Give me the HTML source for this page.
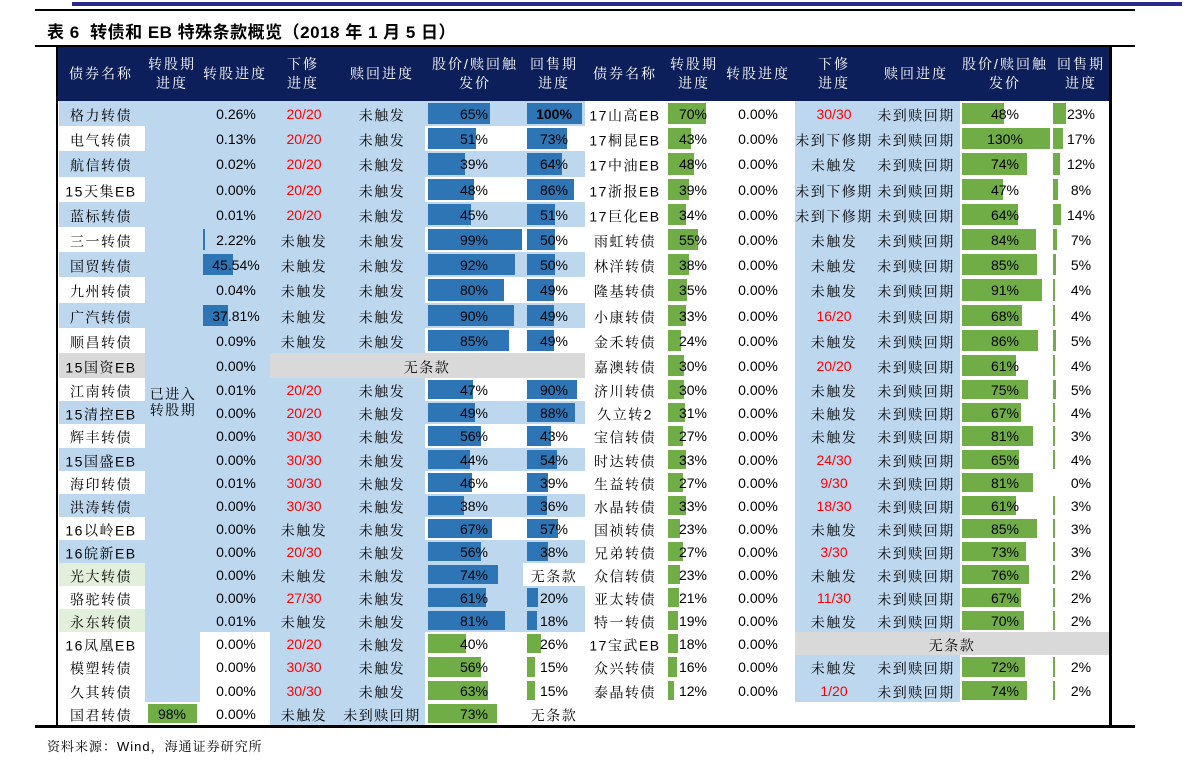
<!DOCTYPE html>
<html><head><meta charset="utf-8">
<style>
body{margin:0;width:1191px;height:772px;background:#fff;position:relative;overflow:hidden;font-family:"Liberation Sans","Noto Serif CJK SC",sans-serif;}
div{position:absolute;box-sizing:border-box;}
.t{white-space:nowrap;font-size:14px;color:#000;text-align:center;transform:translate(-50%,-50%);line-height:1.15;}
.c{font-family:"Liberation Sans","Noto Serif CJK SC",serif;letter-spacing:1.5px;transform:translate(-50%,-40%);}
.h{color:#fff;font-size:14px;line-height:19px;text-align:center;white-space:nowrap;transform:translate(-50%,-50%);font-family:"Liberation Sans","Noto Serif CJK SC",serif;letter-spacing:2px;}
</style></head><body>
<div style="left:72px;top:2px;width:1110px;height:4px;background:#2b2a8a"></div>
<div style="left:35px;top:9px;width:1100px;height:2px;background:#000"></div>
<div style="left:47px;top:18px;font-size:17px;font-weight:bold;white-space:nowrap;letter-spacing:0.5px;font-family:'Liberation Sans','Noto Sans CJK SC',sans-serif;">表 6&nbsp; 转债和 EB 特殊条款概览（2018 年 1 月 5 日）</div>
<div style="left:35px;top:45px;width:1100px;height:2px;background:#000"></div>
<div style="left:57px;top:47px;width:1054px;height:54px;background:#0d1f5a"></div>
<div id="g"></div>
<div style="left:56px;top:47px;width:2px;height:680px;background:#000"></div>
<div style="left:1109px;top:47px;width:3px;height:680px;background:#000"></div>
<div style="left:35px;top:725px;width:1100px;height:3px;background:#000"></div>
<div style="left:47px;top:736px;font-size:13px;white-space:nowrap;letter-spacing:1px;font-family:'Liberation Sans','Noto Serif CJK SC',serif;">资料来源：Wind，海通证券研究所</div>
<script>
(function(){
var B='#bdd7ee',W='#fff',G='#d9d9d9',L='#e2efda',BB='#2e75b6',GB='#70ad47';
var out='';
function rect(x,y,w,h,c){out+='<div style="left:'+x+'px;top:'+y+'px;width:'+w+'px;height:'+h+'px;background:'+c+'"></div>';}
function txt(x,y,s,col,cls,bold){out+='<div class="t '+(cls||'')+'" style="left:'+x+'px;top:'+y+'px;'+(col?'color:'+col+';':'')+(bold?'font-weight:bold;':'')+'">'+s+'</div>';}
function hd(x,s){out+='<div class="h" style="left:'+x+'px;top:74px">'+s+'</div>';}
var hl=[[101,'债券名称'],[172,'转股期<br>进度'],[235,'转股进度'],[303,'下修<br>进度'],[382,'赎回进度'],[475,'股价/赎回触<br>发价'],[554,'回售期<br>进度'],[625,'债券名称'],[694,'转股期<br>进度'],[758,'转股进度'],[834,'下修<br>进度'],[916,'赎回进度'],[1005,'股价/赎回触<br>发价'],[1081,'回售期<br>进度']];
hl.forEach(function(a){hd(a[0],a[1]);});
function rawTop(i){return i<=11?101+(i-1)*25.2:378.2+(i-12)*23.1;}
function rowTop(i){return Math.round(rawTop(i));}
function hh(i){return Math.round(rawTop(i+1))-rowTop(i);}
function isR(s){return /^\d+\/\d+$/.test(s);}
var Lr=[
['格力转债','B','','0.26%','20/20','未触发',65,100],
['电气转债','W','','0.13%','20/20','未触发',51,73],
['航信转债','B','','0.02%','20/20','未触发',39,64],
['15天集EB','W','','0.00%','20/20','未触发',48,86],
['蓝标转债','B','','0.01%','20/20','未触发',45,51],
['三一转债','W','','2.22%','未触发','未触发',99,50],
['国贸转债','B','','45.54%','未触发','未触发',92,50],
['九州转债','W','','0.04%','未触发','未触发',80,49],
['广汽转债','B','','37.81%','未触发','未触发',90,49],
['顺昌转债','W','','0.09%','未触发','未触发',85,49],
['15国资EB','G','','0.00%','','',null,null],
['江南转债','W','','0.01%','20/20','未触发',47,90],
['15清控EB','B','','0.00%','20/20','未触发',49,88],
['辉丰转债','W','','0.00%','30/30','未触发',56,43],
['15国盛EB','B','','0.00%','30/30','未触发',44,54],
['海印转债','W','','0.01%','30/30','未触发',46,39],
['洪涛转债','B','','0.00%','30/30','未触发',38,36],
['16以岭EB','W','','0.00%','未触发','未触发',67,57],
['16皖新EB','B','','0.00%','20/30','未触发',56,38],
['光大转债','L','','0.00%','未触发','未触发',74,'无条款'],
['骆驼转债','X','','0.00%','27/30','未触发',61,20],
['永东转债','L2','','0.01%','未触发','未触发',81,18],
['16凤凰EB','Z','','0.00%','20/20','未触发',40,26],
['模塑转债','Z','','0.00%','30/30','未触发',56,15],
['久其转债','Z','','0.00%','30/30','未触发',63,15],
['国君转债','Z',98,'0.00%','未触发','未到赎回期',73,'无条款']];
Lr.forEach(function(r,k){
 var i=k+1,y=rowTop(i),h=hh(i),cy=y+h/2,t=r[1];
 var green=(i>=23);
 var nameBg=(t=='B'?B:t=='G'?G:(t=='L'||t=='L2')?L:W);
 var wrow=(t=='W'||t=='L');
 rect(59,y,86,h,nameBg);
 rect(145,y,55,h,i==26?W:B);
 rect(200,y,70,h,green?W:B);
 rect(270,y,155,h,t=='G'?G:B);
 if(t=='G'){rect(425,y,160,h,G);}
 else{rect(425,y,98,h,((wrow&&t!='L')||green)?W:B);rect(523,y,62,h,(wrow||green)?W:B);}
 var bc=green?GB:BB;
 if(typeof r[2]=='number'){rect(148,y+2,r[2]*0.5,h-4,GB);txt(172,cy,r[2]+'%');}
 var pv=parseFloat(r[3]);if(pv>1)rect(203,y+2,Math.max(2,pv*0.65),h-4,BB);
 txt(236,cy,r[3]);
 txt(101,cy,r[0],'','c');
 if(t=='G'){txt(427,cy,'无条款','','c');return;}
 txt(304,cy,r[4],isR(r[4])?'#f00':'',isR(r[4])?'':'c');
 txt(382,cy,r[5],'','c');
 rect(428,y+2,r[6]*0.95,h-4,bc);txt(474,cy,r[6]+'%');
 if(typeof r[7]=='number'){rect(527,y+2,r[7]*0.55,h-4,bc);txt(554,cy,r[7]+'%','','',r[7]==100);}
 else txt(554,cy,r[7],'','c');
});
txt(173,399,'已进入<br>转股期','','c');
var Rr=[
['17山高EB',70,'30/30',48,23],['17桐昆EB',43,'未到下修期',130,17],['17中油EB',48,'未触发',74,12],['17浙报EB',39,'未到下修期',47,8],['17巨化EB',34,'未到下修期',64,14],
['雨虹转债',55,'未触发',84,7],['林洋转债',38,'未触发',85,5],['隆基转债',35,'未触发',91,4],['小康转债',33,'16/20',68,4],['金禾转债',24,'未触发',86,5],
['嘉澳转债',30,'20/20',61,4],['济川转债',30,'未触发',75,5],['久立转2',31,'未触发',67,4],['宝信转债',27,'未触发',81,3],['时达转债',33,'24/30',65,4],
['生益转债',27,'9/30',81,0],['水晶转债',33,'18/30',61,3],['国祯转债',23,'未触发',85,3],['兄弟转债',27,'3/30',73,3],['众信转债',23,'未触发',76,2],
['亚太转债',21,'11/30',67,2],['特一转债',19,'未触发',70,2],['17宝武EB',18,null,null,null],['众兴转债',16,'未触发',72,2],['泰晶转债',12,'1/20',74,2]];
Rr.forEach(function(r,k){
 var i=k+1,y=rowTop(i),h=hh(i),cy=y+h/2;
 txt(625,cy,r[0],'','c');
 rect(668,y+2,r[1]*0.54,h-4,GB);txt(693,cy,r[1]+'%');
 txt(758,cy,'0.00%');
 if(r[2]===null){rect(795,y,315,h,G);txt(952,cy,'无条款','','c');return;}
 rect(795,y,165,h,B);
 txt(834,cy,r[2],isR(r[2])?'#f00':'',isR(r[2])?'':'c');
 txt(916,cy,'未到赎回期','','c');
 rect(962,y+2,Math.min(88,r[3]*0.88),h-4,GB);txt(1005,cy,r[3]+'%');
 if(r[4]>0)rect(1053,y+2,Math.max(2,r[4]*0.57),h-4,GB);
 txt(1081,cy,r[4]+'%');
});
document.getElementById('g').outerHTML=out;
})();
</script>
</body></html>
